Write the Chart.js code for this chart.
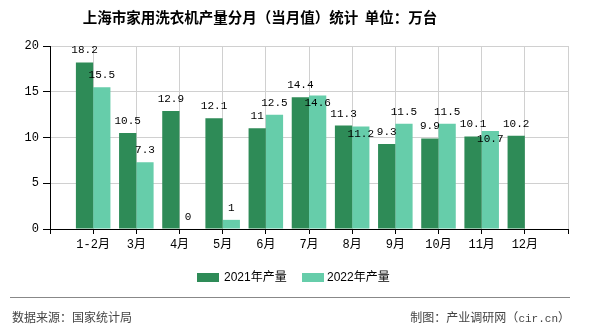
<!DOCTYPE html>
<html><head><meta charset="utf-8">
<script src="https://cdn.jsdelivr.net/npm/chart.js@4"></script>
<style>
html,body{margin:0;padding:0;background:#fff;}
#wrap{position:relative;width:590px;height:330px;overflow:hidden;}
#c{position:absolute;left:0;top:0;}
.t{position:absolute;white-space:nowrap;font-family:"Noto Sans CJK SC",sans-serif;}
#title{left:0;width:520px;top:6px;text-align:center;font-size:14.5px;font-weight:bold;color:#000;line-height:22px;}
.box{position:absolute;width:22px;height:9px;}
.lg{font-size:12px;color:#000;line-height:16px;top:269px;font-family:"Liberation Sans","Noto Sans CJK SC",sans-serif;}
#line{position:absolute;left:10px;width:560px;top:297px;height:0;border-top:1px solid #888;}
.ft{font-size:12px;color:#444;top:308px;line-height:18px;}
</style></head>
<body><div id="wrap">
<canvas id="c" width="590" height="330"></canvas>
<div class="t" id="title">上海市家用洗衣机产量分月（当月值）统计&nbsp;&nbsp;单位：万台</div>
<div class="box" style="left:197px;top:273px;background:#2E8B57"></div>
<div class="t lg" style="left:224px;">2021年产量</div>
<div class="box" style="left:302px;top:273px;background:#66CDAA"></div>
<div class="t lg" style="left:327px;">2022年产量</div>
<div id="line"></div>
<div class="t ft" style="left:12px;">数据来源：国家统计局</div>
<div class="t ft" style="right:20px;">制图：产业调研网（<span style="font-family:'Liberation Mono',monospace;font-size:11px;">cir.cn</span>）</div>
</div>
<script>
const categories = ['1-2月','3月','4月','5月','6月','7月','8月','9月','10月','11月','12月'];
const series2021 = [18.2,10.5,12.9,12.1,11,14.4,11.3,9.3,9.9,10.1,10.2];
const series2022 = [15.5,7.3,0,1,12.5,14.6,11.2,11.5,11.5,10.7,null];
const yTicks = [0,5,10,15,20];

const labels = [''].concat(categories, ['']);
const pad = a => [null].concat(a, [null]);

const monoFont = '"Liberation Mono","Noto Sans CJK SC",monospace';

const labelPlugin = {
  id:'vals',
  afterDatasetsDraw(chart){
    const ctx = chart.ctx;
    const m0 = chart.getDatasetMeta(0), m1 = chart.getDatasetMeta(1);
    ctx.save();
    ctx.font = '11px ' + monoFont;
    ctx.fillStyle = '#000';
    ctx.textAlign = 'center';
    ctx.textBaseline = 'middle';
    const d0 = chart.data.datasets[0].data, d1 = chart.data.datasets[1].data;
    for (let i = 0; i < labels.length; i++) {
      let y0 = null;
      if (d0[i] !== null && d0[i] !== undefined) {
        const el = m0.data[i];
        y0 = el.y - 12;
        ctx.fillText(String(d0[i]), el.x, y0);
      }
      if (d1[i] !== null && d1[i] !== undefined) {
        const el = m1.data[i];
        let y1 = el.y - 12;
        if (y0 !== null && Math.abs(y1 - y0) < 13) y1 = el.y + 8;
        ctx.fillText(String(d1[i]), el.x, y1);
      }
    }
    ctx.restore();
  }
};

new Chart(document.getElementById('c'), {
  type:'bar',
  data:{
    labels: labels,
    datasets:[
      {label:'2021年产量', data: pad(series2021), backgroundColor:'#2E8B57'},
      {label:'2022年产量', data: pad(series2022), backgroundColor:'#66CDAA'}
    ]
  },
  options:{
    responsive:false,
    animation:false,
    layout:{padding:{left:0,right:22,top:46,bottom:81}},
    datasets:{bar:{categoryPercentage:0.8,barPercentage:1.0}},
    plugins:{legend:{display:false},title:{display:false},tooltip:{enabled:false}},
    scales:{
      x:{
        offset:false,
        grid:{offset:false,color:'#d0d0d0',tickColor:'#000',tickLength:5,drawOnChartArea:true},
        border:{color:'#000',width:1},
        ticks:{font:{size:12,family:monoFont},color:'#000',padding:4,autoSkip:false,maxRotation:0},
        afterFit(s){ s.height = 20; }
      },
      y:{
        min:0,max:20,
        afterBuildTicks(s){ s.ticks = yTicks.map(v=>({value:v})); },
        grid:{color:'#d0d0d0',tickColor:'#000',tickLength:7},
        border:{color:'#000',width:1},
        ticks:{font:{size:12,family:monoFont},color:'#000',padding:4},
        afterFit(s){ s.width = 50; }
      }
    }
  },
  plugins:[labelPlugin]
});
</script>
</body></html>
